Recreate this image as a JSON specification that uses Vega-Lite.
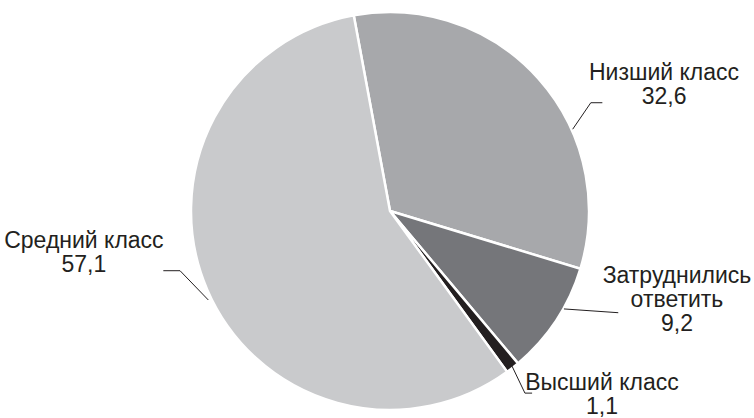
{
  "$schema": "https://vega.github.io/schema/vega-lite/v6.json",
  "width": 728,
  "height": 414,
  "autosize": {"type": "none"},
  "padding": {"left": 26, "right": 0, "top": 4, "bottom": 0},
  "background": "white",
  "config": {"view": {"stroke": null}, "font": "Liberation Sans"},
  "data": {
    "values": [
      {"category": "Низший класс", "value": 32.6, "order": 1},
      {"category": "Затруднились ответить", "value": 9.2, "order": 2},
      {"category": "Высший класс", "value": 1.1, "order": 3},
      {"category": "Средний класс", "value": 57.1, "order": 4}
    ]
  },
  "transform": [
    {"calculate": "replace(format(datum.value, '.1f'), '.', ',')", "as": "valueText"},
    {"calculate": "datum.category == 'Затруднились ответить' ? ['Затруднились', 'ответить', datum.valueText] : [datum.category, datum.valueText]", "as": "labelLines"}
  ],
  "layer": [
    {
      "mark": {"type": "arc", "outerRadius": 199, "stroke": "white", "strokeWidth": 2.5},
      "encoding": {
        "theta": {"field": "value", "type": "quantitative", "stack": true, "scale": {"range": [-0.1833, 6.0999]}},
        "order": {"field": "order", "type": "quantitative"},
        "color": {
          "field": "category", "type": "nominal", "legend": null,
          "scale": {
            "domain": ["Низший класс", "Затруднились ответить", "Высший класс", "Средний класс"],
            "range": ["#a7a8ab", "#75767a", "#231f20", "#c9cacc"]
          }
        }
      }
    },
    {
      "transform": [{"filter": "datum.category == 'Низший класс'"}],
      "layer": [
        {
          "mark": {"type": "text", "fontSize": 23, "lineHeight": 24, "align": "center", "baseline": "top", "color": "#231f20"},
          "encoding": {
            "x": {"datum": 1.377, "type": "quantitative", "scale": {"domain": [-1.829, 1.829], "nice": false, "zero": false}, "axis": null},
            "y": {"datum": 0.749, "type": "quantitative", "scale": {"domain": [-1.04, 1.04], "nice": false, "zero": false}, "axis": null},
            "text": {"field": "labelLines"}
          }
        },
        {
          "mark": {"type": "rule", "color": "#231f20", "strokeWidth": 1},
          "encoding": {"x": {"datum": 0.918}, "y": {"datum": 0.411}, "x2": {"datum": 1.009}, "y2": {"datum": 0.544}}
        },
        {
          "mark": {"type": "rule", "color": "#231f20", "strokeWidth": 1},
          "encoding": {"x": {"datum": 1.009}, "y": {"datum": 0.544}, "x2": {"datum": 1.067}, "y2": {"datum": 0.544}}
        }
      ]
    },
    {
      "transform": [{"filter": "datum.category == 'Затруднились ответить'"}],
      "layer": [
        {
          "mark": {"type": "text", "fontSize": 23, "lineHeight": 24, "align": "center", "baseline": "top", "color": "#231f20"},
          "encoding": {"x": {"datum": 1.442}, "y": {"datum": -0.271}, "text": {"field": "labelLines"}}
        },
        {
          "mark": {"type": "rule", "color": "#231f20", "strokeWidth": 1},
          "encoding": {"x": {"datum": 0.874}, "y": {"datum": -0.492}, "x2": {"datum": 1.147}, "y2": {"datum": -0.511}}
        }
      ]
    },
    {
      "transform": [{"filter": "datum.category == 'Высший класс'"}],
      "layer": [
        {
          "mark": {"type": "text", "fontSize": 23, "lineHeight": 24, "align": "center", "baseline": "top", "color": "#231f20"},
          "encoding": {"x": {"datum": 1.065}, "y": {"datum": -0.809}, "text": {"field": "labelLines"}}
        },
        {
          "mark": {"type": "rule", "color": "#231f20", "strokeWidth": 1},
          "encoding": {"x": {"datum": 0.613}, "y": {"datum": -0.779}, "x2": {"datum": 0.678}, "y2": {"datum": -0.915}}
        },
        {
          "mark": {"type": "rule", "color": "#231f20", "strokeWidth": 1},
          "encoding": {"x": {"datum": 0.678}, "y": {"datum": -0.915}, "x2": {"datum": 0.714}, "y2": {"datum": -0.915}}
        }
      ]
    },
    {
      "transform": [{"filter": "datum.category == 'Средний класс'"}],
      "layer": [
        {
          "mark": {"type": "text", "fontSize": 23, "lineHeight": 24, "align": "center", "baseline": "top", "color": "#231f20"},
          "encoding": {"x": {"datum": -1.538}, "y": {"datum": -0.096}, "text": {"field": "labelLines"}}
        },
        {
          "mark": {"type": "rule", "color": "#231f20", "strokeWidth": 1},
          "encoding": {"x": {"datum": -1.139}, "y": {"datum": -0.300}, "x2": {"datum": -1.055}, "y2": {"datum": -0.300}}
        },
        {
          "mark": {"type": "rule", "color": "#231f20", "strokeWidth": 1},
          "encoding": {"x": {"datum": -1.055}, "y": {"datum": -0.300}, "x2": {"datum": -0.913}, "y2": {"datum": -0.447}}
        }
      ]
    }
  ]
}
